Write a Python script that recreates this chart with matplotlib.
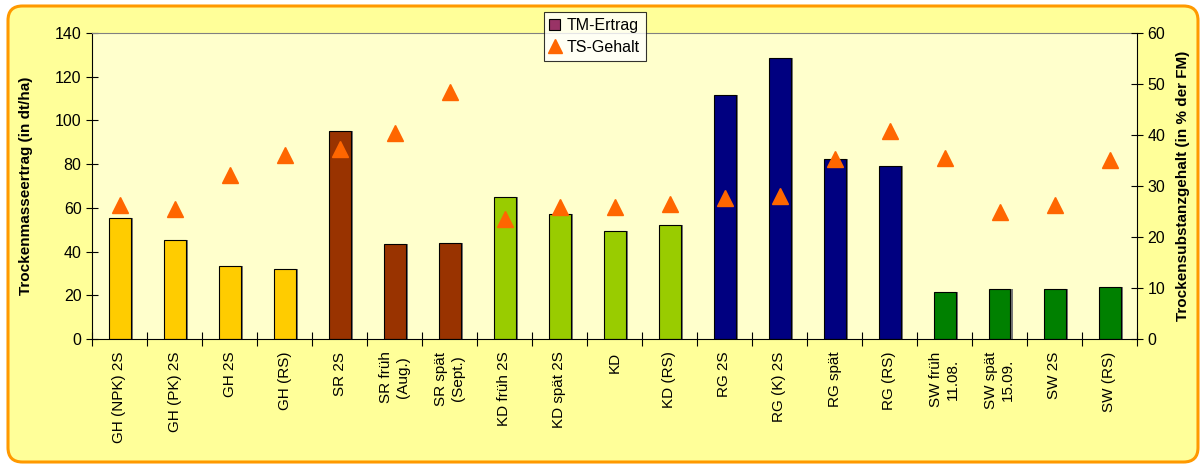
import numpy as np
import matplotlib.pyplot as plt
from matplotlib.patches import FancyBboxPatch, Patch
from matplotlib.lines import Line2D

plt.rcParams['font.family'] = ['Liberation Sans', 'DejaVu Sans']

labels = ["GH (NPK) 2S", "GH (PK) 2S", "GH 2S", "GH (RS)", "SR 2S",
          "SR früh\n(Aug.)", "SR spät\n(Sept.)", "KD früh 2S", "KD spät 2S", "KD",
          "KD (RS)", "RG 2S", "RG (K) 2S", "RG spät", "RG (RS)",
          "SW früh\n11.08.", "SW spät\n15.09.", "SW 2S", "SW (RS)"]
tm_ertrag = [55.5, 45.5, 33.5, 32, 95, 43.5, 44, 65, 57, 49.5,
             52, 111.5, 128.5, 82.5, 79, 21.5, 23, 23, 24]
ts_gehalt = [26.2, 25.4, 32.2, 36.1, 37.3, 40.4, 48.4, 23.6, 25.8, 25.8,
             26.4, 27.7, 28.1, 35.3, 40.7, 35.5, 24.9, 26.3, 35.1]
groups = ["GH"] * 4 + ["SR"] * 3 + ["KD"] * 4 + ["RG"] * 4 + ["SW"] * 4
group_colors = {"GH": "#FFCC00", "SR": "#993300", "KD": "#99CC00",
                "RG": "#000080", "SW": "#008000"}

fig = plt.figure(figsize=(12.01, 4.65), dpi=100)
fig.patch.set_facecolor("white")
frame = FancyBboxPatch((8 / 1201, 3 / 465), 1190 / 1201, 456 / 465,
                       boxstyle="round,pad=0,rounding_size=0.012",
                       transform=fig.transFigure, facecolor="#FFFF99",
                       edgecolor="#FF9900", linewidth=2.2, mutation_aspect=1201 / 465,
                       zorder=-10)
fig.patches.append(frame)

ax = fig.add_axes([92 / 1201, 1 - 339 / 465, (1137 - 92) / 1201, (339 - 33) / 465])
ax.set_facecolor("#FFFFCC")
x = np.arange(len(labels))
colors = [group_colors[g] for g in groups]

# Schatten hinter den Balken
ax.bar(x + 0.05, tm_ertrag, width=0.4, color="#777777", zorder=1)
ax.bar(x, tm_ertrag, width=0.4, color=colors, edgecolor="black", linewidth=0.8, zorder=2)
ax.set_xlim(-0.5, len(labels) - 0.5)
ax.set_ylim(0, 140)
ax.set_yticks(range(0, 141, 20))
ax.set_xticks(np.arange(-0.5, len(labels), 1))
ax.set_xticklabels([])
ax.set_xticks(x, minor=True)
ax.set_xticklabels(labels, minor=True, rotation=90, fontsize=11, va="top", ha="center",
                   multialignment="center")
ax.tick_params(axis="x", which="minor", length=0, pad=9)
ax.tick_params(axis="x", which="major", direction="inout", length=10)
ax.tick_params(axis="y", direction="inout", length=8, labelsize=11.5)
ax.spines["right"].set_visible(False)
ax.spines["top"].set_color("#808080")
ax.spines["top"].set_linewidth(0.8)
ax.set_ylabel("Trockenmasseertrag (in dt/ha)", fontsize=11, fontweight="bold", labelpad=16)

ax2 = ax.twinx()
ax2.plot(x, ts_gehalt, linestyle="none", marker="^", markersize=11, color="#FF6600", zorder=3)
ax2.set_ylim(0, 60)
ax2.set_yticks(range(0, 61, 10))
ax2.tick_params(axis="y", direction="inout", length=8, labelsize=11.5)
for s in ["top", "left", "bottom"]:
    ax2.spines[s].set_visible(False)
ax2.set_ylabel("Trockensubstanzgehalt (in % der FM)", fontsize=11, fontweight="bold", labelpad=8)

handles = [Patch(facecolor="#993366", edgecolor="black", linewidth=0.8),
           Line2D([], [], linestyle="none", marker="^", markersize=10, color="#FF6600")]
leg = ax2.legend(handles, ["TM-Ertrag", "TS-Gehalt"], loc="upper center",
                 bbox_to_anchor=(0.481, 1.068), fontsize=11.5, frameon=True, fancybox=False,
                 edgecolor="black", handlelength=0.7, handletextpad=0.4,
                 borderpad=0.35, labelspacing=0.45, borderaxespad=0)
leg.get_frame().set_linewidth(0.8)

fig.savefig("out.png", dpi=100, facecolor=fig.get_facecolor())
